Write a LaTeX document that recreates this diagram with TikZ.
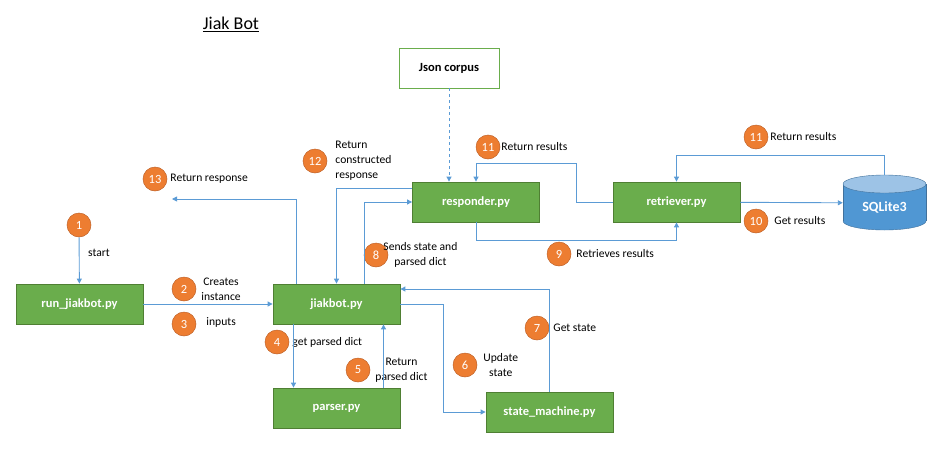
\documentclass[tikz,border=0pt]{standalone}
\usepackage{fontspec}
\setmainfont{Carlito}
\usetikzlibrary{positioning,arrows.meta}

\definecolor{boxgreen}{HTML}{6AAD4C}
\definecolor{boxedge}{HTML}{4F7F33}
\definecolor{linkblue}{HTML}{5B9BD5}
\definecolor{badgeorange}{HTML}{ED7D31}
\definecolor{badgeedge}{HTML}{C0632A}
\definecolor{dbblue}{HTML}{5097D3}
\definecolor{dbedge}{HTML}{41719C}
\definecolor{dbtop}{HTML}{9DC3E6}

\tikzset{
	module/.style={draw=boxedge, fill=boxgreen, line width=0.8pt, minimum width=127pt, minimum height=40pt, inner sep=0pt, text=white, font=\fontsize{12.5}{14}\selectfont\bfseries},
	source/.style={module, draw=boxgreen, fill=white, text=black, minimum width=100pt},
	badge/.style={circle, fill=badgeorange, draw=badgeedge, line width=0.5pt, minimum size=24pt, inner sep=0pt, text=white, font=\fontsize{12.5}{14}\selectfont},
	lbl/.style={inner sep=0pt, align=center, font=\fontsize{11.6}{15}\selectfont},
	dbtext/.style={inner sep=0pt, text=white, font=\fontsize{14}{16}\selectfont\bfseries},
	link/.style={draw=linkblue, line width=0.9pt, -{Triangle[length=5pt,width=5pt]}}
}

\begin{document}
\begin{tikzpicture}[x=1pt,y=-1pt]
	\useasboundingbox (0,0) rectangle (937,461);
		%title
			\node[font=\fontsize{18}{20}\selectfont] (title) at (231,24) {\underline{Jiak Bot}};
		%modules
			\node[module] (run) at (79.5,304) {run\_jiakbot.py};
			\node[module] (jiakbot) at (336.5,304) {jiakbot.py};
			\node[module] (parser) at (336.5,408) {parser.py};
			\node[module] (statem) at (549.5,412) {state\_machine.py};
			\node[module] (responder) at (476,202) {responder.py};
			\node[module] (retriever) at (676.5,202) {retriever.py};
			\node[source] (corpus) at (449,68) {Json corpus};
		%database
			\filldraw[fill=dbblue, draw=dbedge] (884.5,221) ellipse [x radius=41.5pt, y radius=9pt];
			\fill[dbblue] (843,184) rectangle (926,221);
			\draw[dbedge] (843,184) -- (843,221) (926,184) -- (926,221);
			\filldraw[fill=dbtop, draw=dbedge] (884.5,184) ellipse [x radius=41.5pt, y radius=9pt];
			\node[minimum width=83pt, minimum height=56pt, inner sep=0pt] (sqlite) at (884.5,203) {};
			\node[dbtext] (sqlite-text) at (884.5,207) {SQLite3};
		%badges + labels
			\node[badge] (b1) at (79,225) {1};
			\node[lbl, anchor=west] (lbl1) at (88,253) {start};
			\node[badge] (b2) at (184,289) {2};
			\node[lbl, right=5pt of b2] (lbl2) {Creates\\instance};
			\node[badge] (b3) at (184,324) {3};
			\node[lbl, right=10pt of b3, yshift=2pt] (lbl3) {inputs};
			\node[badge] (b4) at (277,342) {4};
			\node[lbl, right=3pt of b4] (lbl4) {get parsed dict};
			\node[badge] (b5) at (358,370) {5};
			\node[lbl, right=5pt of b5] (lbl5) {Return\\parsed dict};
			\node[badge] (b6) at (465,365) {6};
			\node[lbl, right=6pt of b6] (lbl6) {Update\\state};
			\node[badge] (b7) at (537,328) {7};
			\node[lbl, right=4pt of b7] (lbl7) {Get state};
			\node[badge] (b8) at (376,255) {8};
			\node[lbl, right=-5pt of b8] (lbl8) {Sends state and\\parsed dict};
			\node[badge] (b9) at (559,254) {9};
			\node[lbl, right=5pt of b9] (lbl9) {Retrieves results};
			\node[badge] (b10) at (756,221) {10};
			\node[lbl, right=6pt of b10] (lbl10) {Get results};
			\node[badge] (b11a) at (488,147) {11};
			\node[lbl, right=1pt of b11a] (lbl11a) {Return results};
			\node[badge] (b11b) at (756,137) {11};
			\node[lbl, right=2pt of b11b] (lbl11b) {Return results};
			\node[badge] (b12) at (315,161) {12};
			\node[lbl, align=left, right=8pt of b12] (lbl12) {Return\\constructed\\response};
			\node[badge] (b13) at (155,179) {13};
			\node[lbl, right=3pt of b13] (lbl13) {Return response};
			\coordinate (out13) at (172,199);
		%connectors
			\draw[link] (b1) -- (run);
			\draw[link] (run) -- (jiakbot);
			\draw[link] ([xshift=-40pt]jiakbot.north) |- (out13);
			\draw[link] ([yshift=14pt]responder.west) -| (jiakbot.north);
			\draw[link] ([xshift=28pt]jiakbot.north) |- (responder.west);
			\draw[link] (responder.south) -- ++(0,18) -| (retriever.south);
			\draw[link] (retriever.west) -- ++(-36,0) |- ([yshift=18pt]responder.north) -- (responder.north);
			\draw[link] (retriever) -- (sqlite);
			\draw[link] (sqlite.north) -- ++(0,-19) -| (retriever.north);
			\draw[link, dashed] (corpus.south) -- (corpus.south |- responder.north);
			\draw[link] ([xshift=-43pt]jiakbot.south) -- ([xshift=-43pt]parser.north);
			\draw[link] ([xshift=47pt]parser.north) -- ([xshift=47pt]jiakbot.south);
			\draw[link] (jiakbot.east) -- ++(43,0) |- (statem.west);
			\draw[link] (statem.north) |- ([yshift=15pt]jiakbot.east);
\end{tikzpicture}
\end{document}
